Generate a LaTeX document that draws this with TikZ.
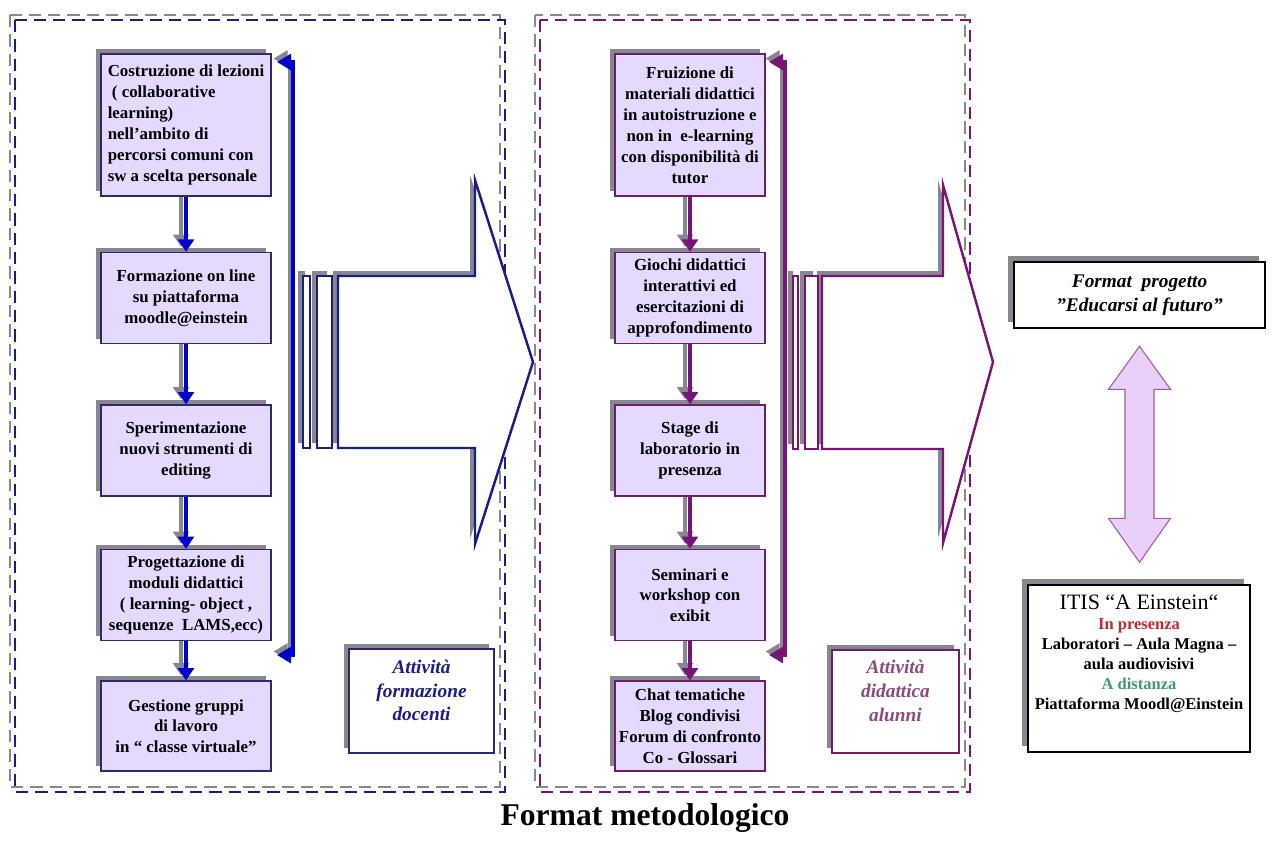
\documentclass[tikz,border=0pt]{standalone}
\usepackage{fontspec}
\setmainfont{Liberation Serif}
\usepackage{xcolor}
\usepackage{tikz}
\usetikzlibrary{arrows.meta, positioning, shadows}
\definecolor{fmBlue}{HTML}{0000CC}
\definecolor{fmNavy}{HTML}{1C1C86}
\definecolor{fmEdge}{HTML}{2A2A6E}
\definecolor{fmPurple}{HTML}{781478}
\definecolor{fmPlum}{HTML}{6A1F66}
\definecolor{fmLilac}{HTML}{E6D9FF}
\definecolor{fmShade}{HTML}{878790}
\definecolor{fmRed}{HTML}{C0282D}
\definecolor{fmGreen}{HTML}{3F9A72}
\definecolor{fmMauve}{HTML}{8E4A80}
\definecolor{fmPink}{HTML}{E8D0F8}

\begin{document}
\begin{tikzpicture}[
  x=0.02cm, y=-0.02cm,
  node distance=1.1cm,
  boxshadow/.style={drop shadow={shadow xshift=-2.8pt, shadow yshift=2.8pt, opacity=1, fill=fmShade}},
  flowbox/.style={draw=#1, line width=0.9pt, fill=fmLilac, boxshadow, align=center,
               font=\fontsize{9.6}{11.9}\selectfont\bfseries, inner sep=2pt,
               minimum width=3.4cm, minimum height=1.82cm},
  notebox/.style={line width=0.9pt, fill=white, boxshadow, align=center, text depth=12pt,
               font=\fontsize{11}{13.5}\selectfont\bfseries\itshape},
  infobox/.style={draw=black, line width=0.8pt, fill=white, align=center,
               drop shadow={shadow xshift=-3.4pt, shadow yshift=3.4pt, opacity=1, fill=fmShade}},
  dashframe/.style={draw=#1, line width=1.3pt, dash pattern=on 7pt off 4pt},
  arr/.style={-{Triangle[length=7pt,width=9pt]}, line width=2.2pt, color=#1},
  backarr/.style={{Triangle[length=8pt,width=9pt]}-{Triangle[length=8pt,width=9pt]}, line width=1.9pt, color=#1},
  bigarr/.style={draw=#1, line width=1.4pt, fill=white},
  bigshade/.style={fill=fmShade, shift={(-5,-5)}},
  dblarr/.style={draw=fmPurple!70, line width=0.6pt, fill=fmPink}
]
  \useasboundingbox (0,0) rectangle (1271,840);

  \draw[dashframe=fmShade] (10,15) rectangle (500,787);
  \draw[dashframe=fmNavy] (15,20) rectangle (505,792);
  \draw[dashframe=fmShade] (535,15) rectangle (965,787);
  \draw[dashframe=fmPurple] (540,20) rectangle (970,792);

  \coordinate (ctop) at (277,62);
  \coordinate (cbot) at (277,655);
  \coordinate (dtop) at (769,62);
  \coordinate (dbot) at (769,655);
  \draw[backarr=fmShade] ([shift={(-3.5,-3.5)}]ctop) -- ++(16,0) |- ([shift={(-3.5,-3.5)}]cbot);
  \draw[backarr=fmBlue] (ctop) -- ++(16,0) |- (cbot);
  \draw[backarr=fmShade] ([shift={(-3.5,-3.5)}]dtop) -- ++(16,0) |- ([shift={(-3.5,-3.5)}]dbot);
  \draw[backarr=fmPurple] (dtop) -- ++(16,0) |- (dbot);

  \fill[bigshade] (303,276) rectangle (310,448) (317,276) rectangle (332,448);
  \fill[bigshade] (338,276) -- (475,276) -- (475,180) -- (533,362) -- (475,544) -- (475,448) -- (338,448) -- cycle;
  \draw[bigarr=fmNavy] (303,276) rectangle (310,448) (317,276) rectangle (332,448);
  \draw[bigarr=fmNavy] (338,276) -- (475,276) -- (475,180) -- (533,362) -- (475,544) -- (475,448) -- (338,448) -- cycle;

  \fill[bigshade] (793,276) rectangle (798,449) (805,276) rectangle (818,449);
  \fill[bigshade] (822,276) -- (943,276) -- (943,185) -- (993,362) -- (943,543) -- (943,449) -- (822,449) -- cycle;
  \draw[bigarr=fmPurple] (793,276) rectangle (798,449) (805,276) rectangle (818,449);
  \draw[bigarr=fmPurple] (822,276) -- (943,276) -- (943,185) -- (993,362) -- (943,543) -- (943,449) -- (822,449) -- cycle;

  \node[flowbox=fmEdge, align=left, minimum height=2.84cm] (c1) at (186,125) {Costruzione di lezioni\\ ~( collaborative\\ learning)\\ nell’ambito di\\ percorsi comuni con\\ sw a scelta personale};
  \node[flowbox=fmEdge, below=1.1cm of c1] (c2) {Formazione on line\\ su piattaforma\\ moodle@einstein};
  \node[flowbox=fmEdge, below=1.2cm of c2] (c3) {Sperimentazione\\ nuovi strumenti di\\ editing};
  \node[flowbox=fmEdge, below=1.04cm of c3] (c4) {Progettazione di\\ moduli didattici\\ ( learning- object ,\\ sequenze~ LAMS,ecc)};
  \node[flowbox=fmEdge, below=0.78cm of c4, minimum height=1.8cm] (c5) {Gestione gruppi\\ di lavoro\\ in “ classe virtuale”};

  \node[flowbox=fmPlum, minimum width=3cm, minimum height=2.84cm] (d1) at (690,125) {Fruizione di\\ materiali didattici\\ in autoistruzione e\\ non in~ e-learning\\ con disponibilità di\\ tutor};
  \node[flowbox=fmPlum, minimum width=3cm, below=1.1cm of d1] (d2) {Giochi didattici\\ interattivi ed\\ esercitazioni di\\ approfondimento};
  \node[flowbox=fmPlum, minimum width=3cm, below=1.2cm of d2] (d3) {Stage di\\ laboratorio in\\ presenza};
  \node[flowbox=fmPlum, minimum width=3cm, below=1.04cm of d3] (d4) {Seminari e\\ workshop con\\ exibit};
  \node[flowbox=fmPlum, minimum width=3cm, below=0.78cm of d4, minimum height=1.8cm] (d5) {Chat tematiche\\ Blog condivisi\\ Forum di confronto\\ Co - Glossari};

  \draw[arr=fmShade] ([xshift=-2.8pt]c1.south) -- ([xshift=-2.8pt,yshift=2.8pt]c2.north);
  \draw[arr=fmBlue] (c1) -- (c2);
  \draw[arr=fmShade] ([xshift=-2.8pt]c2.south) -- ([xshift=-2.8pt,yshift=2.8pt]c3.north);
  \draw[arr=fmBlue] (c2) -- (c3);
  \draw[arr=fmShade] ([xshift=-2.8pt]c3.south) -- ([xshift=-2.8pt,yshift=2.8pt]c4.north);
  \draw[arr=fmBlue] (c3) -- (c4);
  \draw[arr=fmShade] ([xshift=-2.8pt]c4.south) -- ([xshift=-2.8pt,yshift=2.8pt]c5.north);
  \draw[arr=fmBlue] (c4) -- (c5);

  \draw[arr=fmShade] ([xshift=-2.8pt]d1.south) -- ([xshift=-2.8pt,yshift=2.8pt]d2.north);
  \draw[arr=fmPurple] (d1) -- (d2);
  \draw[arr=fmShade] ([xshift=-2.8pt]d2.south) -- ([xshift=-2.8pt,yshift=2.8pt]d3.north);
  \draw[arr=fmPurple] (d2) -- (d3);
  \draw[arr=fmShade] ([xshift=-2.8pt]d3.south) -- ([xshift=-2.8pt,yshift=2.8pt]d4.north);
  \draw[arr=fmPurple] (d3) -- (d4);
  \draw[arr=fmShade] ([xshift=-2.8pt]d4.south) -- ([xshift=-2.8pt,yshift=2.8pt]d5.north);
  \draw[arr=fmPurple] (d4) -- (d5);

  \node[notebox, draw=fmEdge, text=fmNavy, minimum width=2.9cm, minimum height=2.08cm] (fd) at (421.5,701) {Attività\\ formazione\\ docenti};
  \node[notebox, draw=fmPlum, text=fmMauve, minimum width=2.54cm, minimum height=2.06cm] (da) at (895.5,701.5) {Attività\\ didattica\\ alunni};

  \node[infobox, minimum width=5.02cm, minimum height=1.32cm, font=\fontsize{11}{13.5}\selectfont\bfseries\itshape] (fmt) at (1139.5,295) {Format~ progetto\\ ”Educarsi al futuro”};
  \node[infobox, minimum width=4.44cm, minimum height=3.34cm, text depth=19pt, font=\fontsize{9.4}{11.4}\selectfont\bfseries] (itis) at (1139,668.5)
    {{\mdseries\fontsize{12.5}{15}\selectfont ITIS “A Einstein“}\\ \textcolor{fmRed}{In presenza}\\ Laboratori – Aula Magna –\\ aula audiovisivi\\ \textcolor{fmGreen}{A distanza}\\ Piattaforma Moodl@Einstein};

  \draw[dblarr] ([yshift=-10pt]fmt.south) -- ++(31,43) -- ++(-16.5,0) -- ++(0,129) -- ++(16.5,0) -- ++(-31,44)
    -- ++(-31,-44) -- ++(16.5,0) -- ++(0,-129) -- ++(-16.5,0) -- cycle;

  \node[font=\fontsize{18}{22}\selectfont\bfseries] (title) at (645,818) {Format metodologico};
\end{tikzpicture}
\end{document}
